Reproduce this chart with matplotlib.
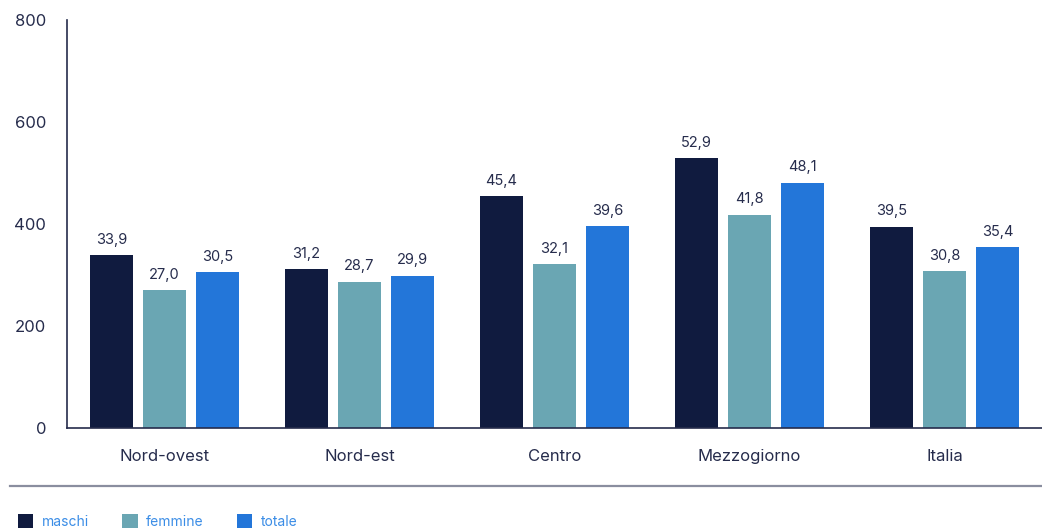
import numpy as np
import matplotlib.pyplot as plt
from matplotlib.lines import Line2D
from matplotlib.ticker import FixedLocator

plt.rcParams['font.family'] = ['Inter', 'DejaVu Sans']

# Regions and rates per sex.
regioni = ['Nord-ovest', 'Nord-est', 'Centro', 'Mezzogiorno', 'Italia']
maschi = [33.9, 31.2, 45.4, 52.9, 39.5]
femmine = [27.0, 28.7, 32.1, 41.8, 30.8]
totale = [30.5, 29.9, 39.6, 48.1, 35.4]
serie = ['maschi', 'femmine', 'totale']
colori = ['#101b3f', '#6aa6b3', '#2376d9']
yticks = [0, 200, 400, 600, 800]

navy = '#262c4c'

fig = plt.figure(figsize=(10.42, 5.32), dpi=100)
ax = fig.add_axes([67 / 1042, 1 - 428 / 532, 975 / 1042, 408 / 532])

x = np.arange(len(regioni))
w = 0.22
step = 0.272
for k, (nome, vals, col) in enumerate(zip(serie, [maschi, femmine, totale], colori)):
    alt = np.array(vals) * 10
    bars = ax.bar(x + (k - 1) * step, alt, width=w, color=col, label=nome, zorder=2)
    for b, v in zip(bars, vals):
        ax.annotate(f'{v:.1f}'.replace('.', ','),
                    (b.get_x() + b.get_width() / 2, b.get_height()),
                    xytext=(0, 6), textcoords='offset points',
                    ha='center', va='bottom', fontsize=10.5, color=navy)

ax.set_xlim(-0.5, len(regioni) - 0.5)
ax.set_ylim(0, 800)
ax.yaxis.set_major_locator(FixedLocator(yticks))
ax.set_xticks(x)
ax.set_xticklabels(regioni)
ax.tick_params(axis='both', length=0, labelsize=12, colors=navy)
ax.tick_params(axis='x', pad=15)
ax.tick_params(axis='y', pad=15)
for s in ['top', 'right']:
    ax.spines[s].set_visible(False)
for s in ['left', 'bottom']:
    ax.spines[s].set_color(navy)
    ax.spines[s].set_linewidth(1.2)

# separator above the legend
fig.add_artist(Line2D([10 / 1042, 1], [1 - 486 / 532] * 2, color='#8a8e9f', lw=1.6))

fig.legend(loc='lower left', bbox_to_anchor=(0.012, -0.004), ncol=3, frameon=False,
           fontsize=10, labelcolor='#3b8de6', handlelength=1.1, handleheight=1.1,
           handletextpad=0.6, columnspacing=2.4, borderaxespad=0)

fig.savefig('out.png', dpi=100)
